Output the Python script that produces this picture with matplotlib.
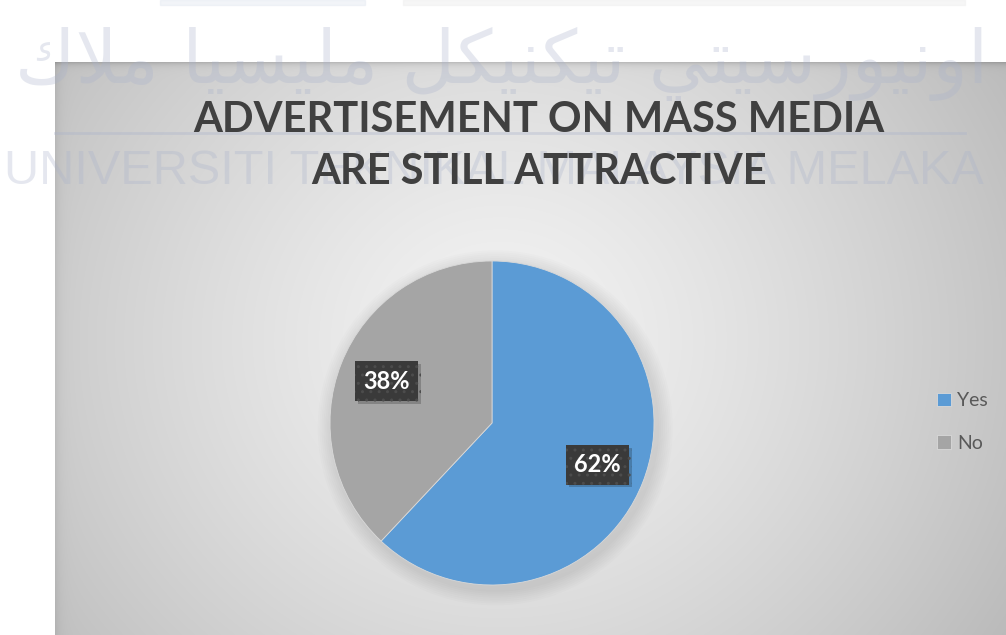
import numpy as np
import matplotlib
matplotlib.use("Agg")
import matplotlib.pyplot as plt
from matplotlib import patheffects
from matplotlib.patches import Rectangle, Circle

W, H = 1006, 635

labels = ["Yes", "No"]
shares = [62, 38]
colors = ["#5B9BD5", "#A5A5A5"]
title_lines = ["ADVERTISEMENT ON MASS MEDIA", "ARE STILL ATTRACTIVE"]

# watermark text; the Jawi line is written in presentation forms (logical order)
mark_latin = "UNIVERSITI TEKNIKAL MALAYSIA MELAKA"
mark_jawi = ("\uFE8D\uFEED\uFEE7\uFEF4\uFEEE\uFEAD\uFEB3\uFEF4\uFE98\uFEF2 "
             "\uFE97\uFEF4\uFEDC\uFEE8\uFEF4\uFEDC\uFEDE "
             "\uFEE3\uFEE0\uFEF4\uFEB4\uFEF4\uFE8E "
             "\uFEE3\uFEFC\uFED9")


def fx(x):
    return x / W


def fy(y):
    return 1 - y / H


fig = plt.figure(figsize=(W / 100, H / 100), dpi=100, facecolor="white")

# chart area with a radial grey gradient
bg = fig.add_axes([fx(55), 0, fx(W - 55), (H - 62) / H])
xs = np.arange(55, W)
ys = np.arange(62, H)
gx, gy = np.meshgrid(xs, ys)
r = np.sqrt(((gx - 500) / 560.0) ** 2 + ((gy - 340) / 520.0) ** 2)
v = 243 - 52 * np.clip(r, 0, 1.3) ** 1.3
v -= 14 * np.exp(-(gx - 55) / 5.0)
v -= 30 * np.exp(-(gy - 62) / 3.0)
v = np.clip(v, 0, 255) / 255.0
bg.imshow(np.dstack([v, v, v]), extent=(55, W, H, 62), aspect="auto",
          interpolation="bilinear")
bg.set_xlim(55, W)
bg.set_ylim(H, 62)
bg.axis("off")

# faint watermark on top of the chart area
wm = fig.add_axes([0, 0, 1, 1], zorder=2)
wm.set_xlim(0, W)
wm.set_ylim(H, 0)
wm.axis("off")
wm_col = "#a9b2cb"
wm.add_patch(Rectangle((160, 0), 205, 5, color="#e6eaf2", alpha=0.5))
wm.add_patch(Rectangle((403, 0), 562, 5, color="#f0f0f0", alpha=0.6))
wm.text(502, 64, mark_jawi[::-1], ha="center", va="center", fontsize=53,
        family="DejaVu Sans", color=wm_col, alpha=0.3)
wm.plot([55, 965], [133, 133], color=wm_col, lw=2, alpha=0.35)
wm.text(494, 171, mark_latin, ha="center", va="center", fontsize=35,
        family="Liberation Sans", color=wm_col, alpha=0.3)

# title
for line, yc in zip(title_lines, [120, 172]):
    fig.text(fx(539), fy(yc), line, ha="center", va="center", fontsize=30,
             fontweight="bold", family="Lato", color="#404040", zorder=5)

# pie
ax = fig.add_axes([fx(492 - 162), fy(585), fx(324), 324 / H], zorder=3)
for k in range(1, 9):
    ax.add_patch(Circle((0.02, -0.03), 1 + 0.012 * k, color="black",
                        alpha=0.012, lw=0, clip_on=False))
wedges, _, pcts = ax.pie(shares, colors=colors, startangle=90, counterclock=False,
                         autopct="%1.0f%%", pctdistance=0.70,
                         wedgeprops=dict(edgecolor="#d9d9d9", linewidth=0.6))
ax.set_xlim(-1, 1)
ax.set_ylim(-1, 1)

for t in pcts:
    t.set_color("white")
    t.set_fontweight("bold")
    t.set_family("Lato")
    t.set_fontsize(17)
    t.set_bbox(dict(boxstyle="square,pad=0.35", facecolor="#3a3a3a",
                    edgecolor="#4c4c4c", linewidth=0, hatch=".."))
    t.get_bbox_patch().set_path_effects([
        patheffects.SimplePatchShadow(offset=(2, -2), shadow_rgbFace="black", alpha=0.2),
        patheffects.Normal()])

ax.legend(wedges, labels, loc="center left", bbox_to_anchor=(fx(937), fy(422)),
          bbox_transform=fig.transFigure, frameon=False,
          prop=dict(family="Lato", size=14), labelcolor="#595959",
          handlelength=0.7, handleheight=0.7, handletextpad=0.35,
          labelspacing=1.3, borderpad=0, borderaxespad=0)

fig.savefig("out.png", dpi=100, facecolor="white")
